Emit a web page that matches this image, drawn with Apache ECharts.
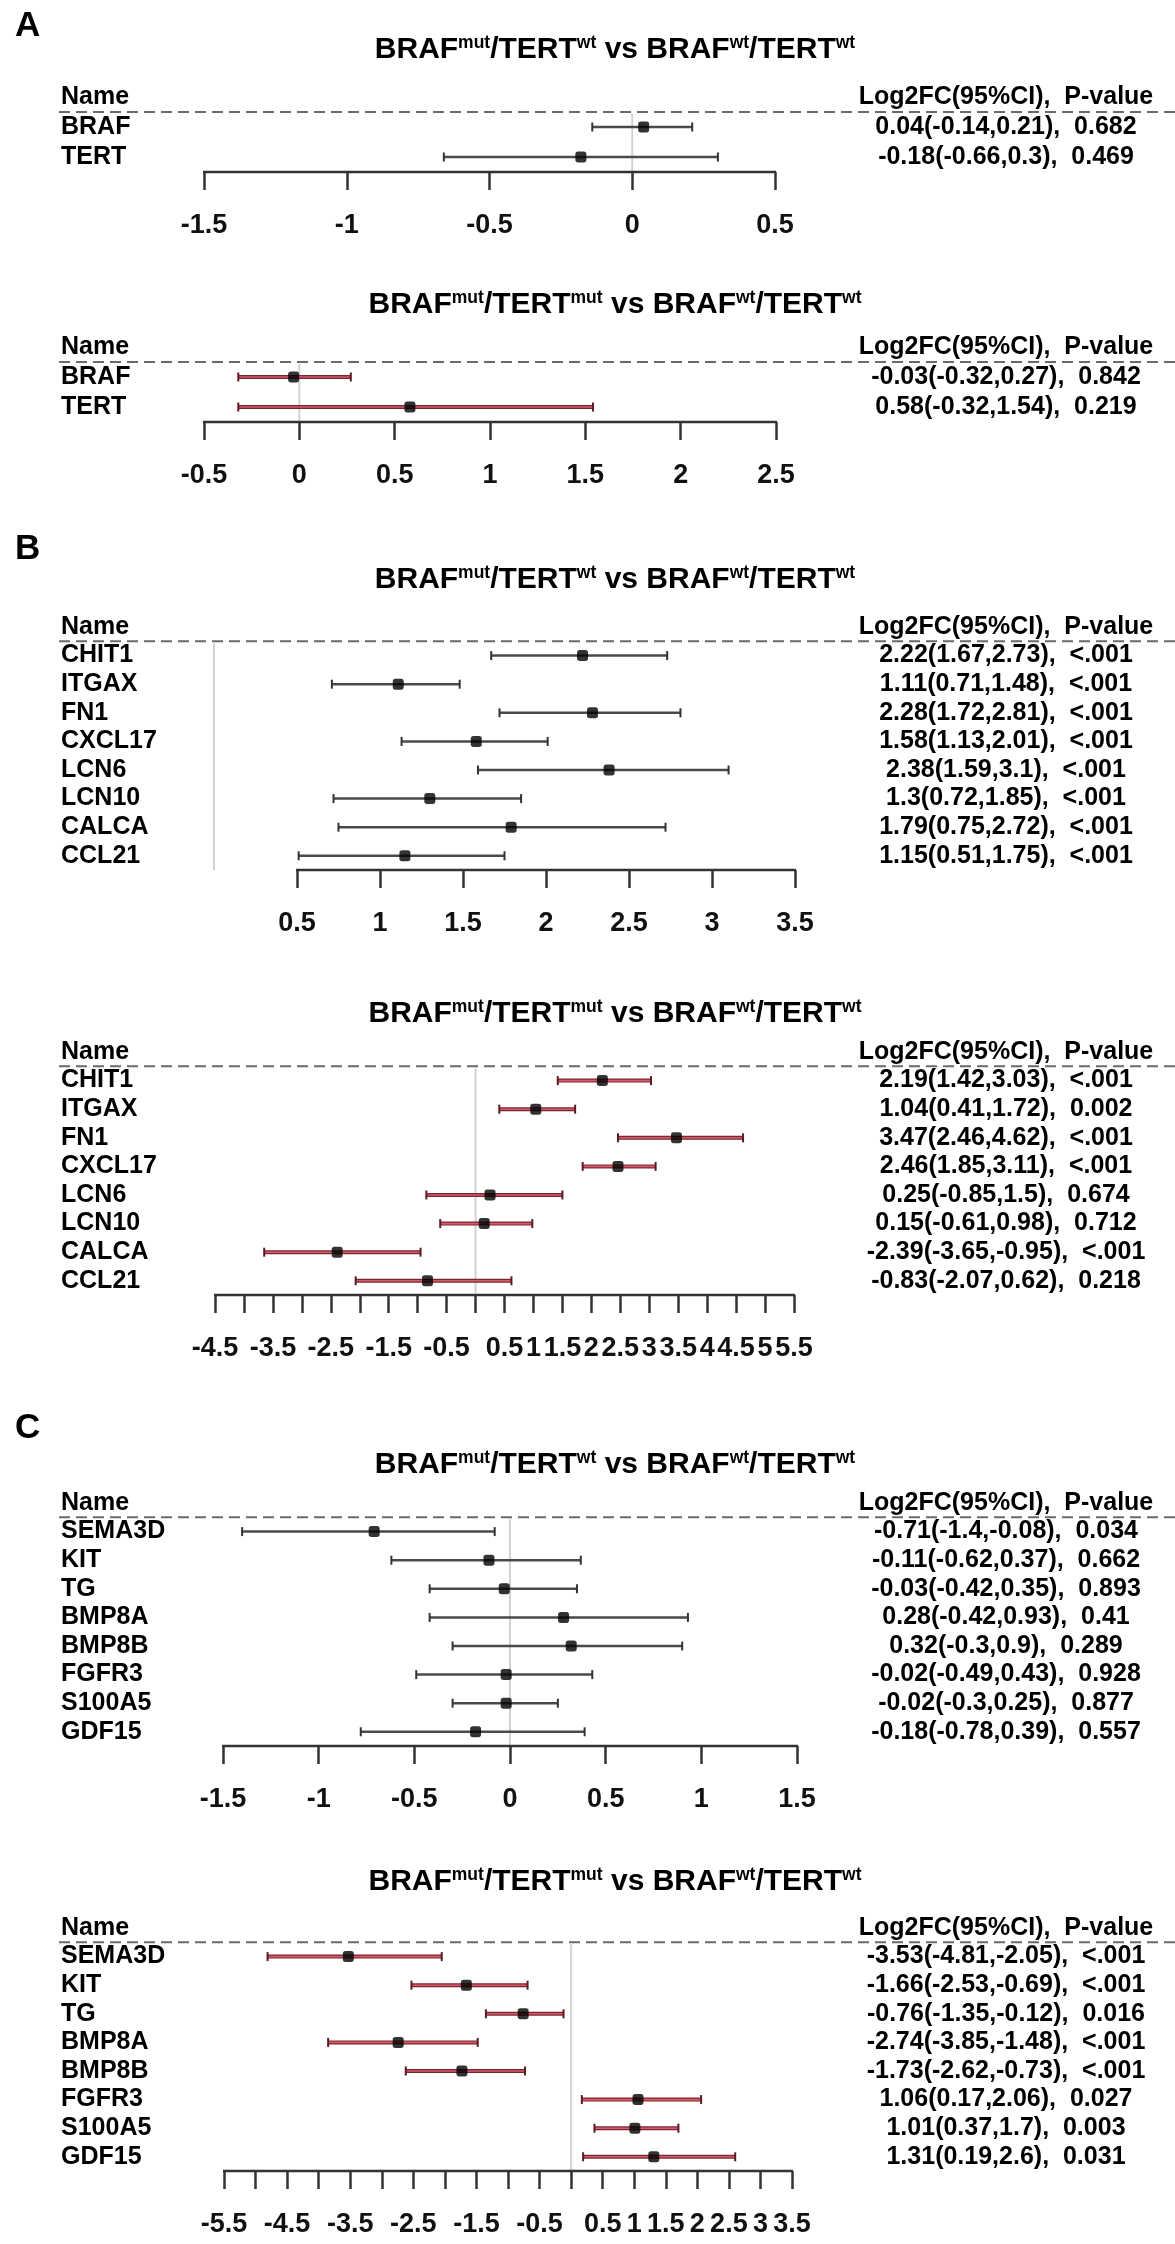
<!DOCTYPE html>
<html>
<head>
<meta charset="utf-8">
<title>Forest plots A-C</title>
<script src="https://cdn.jsdelivr.net/npm/echarts@6.0.0/dist/echarts.min.js"></script>
<style>
    html, body { margin: 0; padding: 0; background: #fff; }
    #main { width: 1175px; height: 2244px; }
</style>
</head>
<body>
<div id="main"></div>
<script>
(function() {
    // gene names
    var genesA = ['BRAF', 'TERT'];
    var genesB = ['CHIT1', 'ITGAX', 'FN1', 'CXCL17', 'LCN6', 'LCN10', 'CALCA', 'CCL21'];
    var genesC = ['SEMA3D', 'KIT', 'TG', 'BMP8A', 'BMP8B', 'FGFR3', 'S100A5', 'GDF15'];

    // A, mut/wt vs wt/wt
    var estA1 = [0.04, -0.18];
    var lowA1 = [-0.14, -0.66];
    var highA1 = [0.21, 0.3];
    var pA1 = ['0.682', '0.469'];
    // A, mut/mut vs wt/wt
    var estA2 = [-0.03, 0.58];
    var lowA2 = [-0.32, -0.32];
    var highA2 = [0.27, 1.54];
    var pA2 = ['0.842', '0.219'];

    // B, mut/wt vs wt/wt
    var estB1 = [2.22, 1.11, 2.28, 1.58, 2.38, 1.3, 1.79, 1.15];
    var lowB1 = [1.67, 0.71, 1.72, 1.13, 1.59, 0.72, 0.75, 0.51];
    var highB1 = [2.73, 1.48, 2.81, 2.01, 3.1, 1.85, 2.72, 1.75];
    var pB1 = ['<.001', '<.001', '<.001', '<.001', '<.001', '<.001', '<.001', '<.001'];
    // B, mut/mut vs wt/wt
    var estB2 = [2.19, 1.04, 3.47, 2.46, 0.25, 0.15, -2.39, -0.83];
    var lowB2 = [1.42, 0.41, 2.46, 1.85, -0.85, -0.61, -3.65, -2.07];
    var highB2 = [3.03, 1.72, 4.62, 3.11, 1.5, 0.98, -0.95, 0.62];
    var pB2 = ['<.001', '0.002', '<.001', '<.001', '0.674', '0.712', '<.001', '0.218'];

    // C, mut/wt vs wt/wt
    var estC1 = [-0.71, -0.11, -0.03, 0.28, 0.32, -0.02, -0.02, -0.18];
    var lowC1 = [-1.4, -0.62, -0.42, -0.42, -0.3, -0.49, -0.3, -0.78];
    var highC1 = [-0.08, 0.37, 0.35, 0.93, 0.9, 0.43, 0.25, 0.39];
    var pC1 = ['0.034', '0.662', '0.893', '0.41', '0.289', '0.928', '0.877', '0.557'];
    // C, mut/mut vs wt/wt
    var estC2 = [-3.53, -1.66, -0.76, -2.74, -1.73, 1.06, 1.01, 1.31];
    var lowC2 = [-4.81, -2.53, -1.35, -3.85, -2.62, 0.17, 0.37, 0.19];
    var highC2 = [-2.05, -0.69, -0.12, -1.48, -0.73, 2.06, 1.7, 2.6];
    var pC2 = ['<.001', '<.001', '0.016', '<.001', '<.001', '0.027', '0.003', '0.031'];

    // axis ticks and the labels that are printed
    var ticksA1 = [-1.5, -1, -0.5, 0, 0.5];
    var labelsA1 = [-1.5, -1, -0.5, 0, 0.5];
    var ticksA2 = [-0.5, 0, 0.5, 1, 1.5, 2, 2.5];
    var labelsA2 = [-0.5, 0, 0.5, 1, 1.5, 2, 2.5];
    var ticksB1 = [0.5, 1, 1.5, 2, 2.5, 3, 3.5];
    var labelsB1 = [0.5, 1, 1.5, 2, 2.5, 3, 3.5];
    var ticksB2 = [-4.5, -4, -3.5, -3, -2.5, -2, -1.5, -1, -0.5, 0, 0.5, 1, 1.5, 2, 2.5, 3, 3.5, 4, 4.5, 5, 5.5];
    var labelsB2 = [-4.5, -3.5, -2.5, -1.5, -0.5, 0.5, 1, 1.5, 2, 2.5, 3, 3.5, 4, 4.5, 5, 5.5];
    var ticksC1 = [-1.5, -1, -0.5, 0, 0.5, 1, 1.5];
    var labelsC1 = [-1.5, -1, -0.5, 0, 0.5, 1, 1.5];
    var ticksC2 = [-5.5, -5, -4.5, -4, -3.5, -3, -2.5, -2, -1.5, -1, -0.5, 0, 0.5, 1, 1.5, 2, 2.5, 3, 3.5];
    var labelsC2 = [-5.5, -4.5, -3.5, -2.5, -1.5, -0.5, 0.5, 1, 1.5, 2, 2.5, 3, 3.5];

    var FONT = '"Liberation Sans", Arial, Helvetica, sans-serif';
    var W = 1175;
    var TEXT_X = 1006;   // centre of the right text column
    var NAME_X = 61;     // left edge of the name column

    // layout of the six plots (pixels)
    var panels = [
        { genes: genesA, est: estA1, low: lowA1, high: highA1, p: pA1, ticks: ticksA1, labels: labelsA1,
          min: -1.5, max: 0.5, second: 'wt', red: false, titleY: 50, nameY: 97, rowH: 30, left: 204, right: 775 },
        { genes: genesA, est: estA2, low: lowA2, high: highA2, p: pA2, ticks: ticksA2, labels: labelsA2,
          min: -0.5, max: 2.5, second: 'mut', red: true, titleY: 305, nameY: 347, rowH: 30, left: 204, right: 776 },
        { genes: genesB, est: estB1, low: lowB1, high: highB1, p: pB1, ticks: ticksB1, labels: labelsB1,
          min: 0, max: 3.5, second: 'wt', red: false, titleY: 580, nameY: 627, rowH: 28.6, left: 214, right: 795 },
        { genes: genesB, est: estB2, low: lowB2, high: highB2, p: pB2, ticks: ticksB2, labels: labelsB2,
          min: -4.5, max: 5.5, second: 'mut', red: true, titleY: 1014, nameY: 1052, rowH: 28.6, left: 215, right: 794 },
        { genes: genesC, est: estC1, low: lowC1, high: highC1, p: pC1, ticks: ticksC1, labels: labelsC1,
          min: -1.5, max: 1.5, second: 'wt', red: false, titleY: 1465, nameY: 1503, rowH: 28.6, left: 223, right: 797 },
        { genes: genesC, est: estC2, low: lowC2, high: highC2, p: pC2, ticks: ticksC2, labels: labelsC2,
          min: -5.5, max: 3.5, second: 'mut', red: true, titleY: 1882, nameY: 1928, rowH: 28.6, left: 224, right: 792 }
    ];
    var letters = [{ text: 'A', y: 26 }, { text: 'B', y: 549 }, { text: 'C', y: 1428 }];

    var option = {
        animation: false,
        backgroundColor: '#fff',
        grid: [],
        xAxis: [],
        yAxis: [],
        series: [],
        graphic: []
    };

    letters.forEach(function(l) {
        option.graphic.push({
            type: 'text', x: 15, y: l.y,
            style: { text: l.text, fontSize: 35, fontWeight: 'bold', fontFamily: FONT, fill: '#000', verticalAlign: 'middle' }
        });
    });

    panels.forEach(function(p, i) {
        var n = p.genes.length;
        var top = p.nameY - p.rowH / 2;

        // title with superscripts
        option.graphic.push({
            type: 'text', x: 615, y: p.titleY,
            style: {
                text: '{b|BRAF}{s|mut}{b|/TERT}{s|' + p.second + '}{b| vs BRAF}{s|wt}{b|/TERT}{s|wt}',
                align: 'center', verticalAlign: 'middle',
                rich: {
                    b: { fontSize: 30, fontWeight: 'bold', fontFamily: FONT, fill: '#000', lineHeight: 31 },
                    s: { fontSize: 17.5, fontWeight: 'bold', fontFamily: FONT, fill: '#000', lineHeight: 17, verticalAlign: 'top' }
                }
            }
        });

        var texts = p.genes.map(function(g, k) {
            return p.est[k] + '(' + p.low[k] + ',' + p.high[k] + '),  ' + p.p[k];
        });

        option.grid.push({ left: p.left, width: p.right - p.left, top: top, height: (n + 1) * p.rowH });

        option.xAxis.push({
            type: 'value', gridIndex: i, min: p.min, max: p.max,
            splitLine: { show: false },
            axisLine: { show: false },
            axisTick: { show: true, customValues: p.ticks, length: 18, lineStyle: { color: '#333', width: 2.5 } },
            axisLabel: {
                customValues: p.labels, margin: 40, hideOverlap: false,
                fontSize: 27, fontWeight: 'bold', fontFamily: FONT, color: '#111',
                formatter: function(v) { return String(v); }
            }
        });

        // names on the left
        option.yAxis.push({
            type: 'category', gridIndex: i, inverse: true,
            data: ['Name'].concat(p.genes),
            axisLine: { show: false }, axisTick: { show: false }, splitLine: { show: false },
            axisLabel: { interval: 0, align: 'left', margin: p.left - NAME_X, fontSize: 25, fontWeight: 'bold', fontFamily: FONT, color: '#000' }
        });
        // estimate text on the right
        option.yAxis.push({
            type: 'category', gridIndex: i, inverse: true, position: 'right',
            data: ['Log2FC(95%CI),  P-value'].concat(texts),
            axisLine: { show: false }, axisTick: { show: false }, splitLine: { show: false },
            axisLabel: { interval: 0, align: 'center', margin: TEXT_X - p.right, fontSize: 25, fontWeight: 'bold', fontFamily: FONT, color: '#000' }
        });

        // dashed header line, zero line and axis base line
        option.series.push({
            type: 'custom', xAxisIndex: i, yAxisIndex: 2 * i, clip: false, silent: true, z: 1,
            data: [[0, 0]],
            renderItem: function(params, api) {
                var h = api.size([0, 1])[1];
                var yDash = api.coord([0, 0])[1] + h / 2;
                var yBase = api.coord([0, n])[1] + h / 2;
                var x0 = api.coord([0, 0])[0];
                var xa = api.coord([p.ticks[0], 0])[0];
                var xb = api.coord([p.ticks[p.ticks.length - 1], 0])[0];
                return {
                    type: 'group',
                    children: [
                        { type: 'line', shape: { x1: 59, y1: yDash, x2: W, y2: yDash }, style: { stroke: '#6a6a6a', lineWidth: 2, lineDash: [11, 6] } },
                        { type: 'line', shape: { x1: x0, y1: yDash + 2, x2: x0, y2: yBase }, style: { stroke: '#d2d2d2', lineWidth: 2 } },
                        { type: 'line', shape: { x1: xa - 1, y1: yBase, x2: xb + 1, y2: yBase }, style: { stroke: '#333', lineWidth: 2.5 } }
                    ]
                };
            }
        });

        // confidence intervals
        option.series.push({
            type: 'custom', xAxisIndex: i, yAxisIndex: 2 * i, clip: false, silent: true, z: 2,
            encode: { x: [0, 1], y: 2 },
            data: p.genes.map(function(g, k) { return [p.low[k], p.high[k], g]; }),
            renderItem: function(params, api) {
                var a = api.coord([api.value(0), api.value(2)]);
                var b = api.coord([api.value(1), api.value(2)]);
                var cap = 4.5;
                var capColor = p.red ? '#5c1a22' : '#333';
                var kids = [];
                if (p.red) {
                    kids.push({ type: 'line', shape: { x1: a[0], y1: a[1], x2: b[0], y2: b[1] }, style: { stroke: '#7a2631', lineWidth: 4 } });
                    kids.push({ type: 'line', shape: { x1: a[0], y1: a[1], x2: b[0], y2: b[1] }, style: { stroke: '#d65a6a', lineWidth: 1.6 } });
                } else {
                    kids.push({ type: 'line', shape: { x1: a[0], y1: a[1], x2: b[0], y2: b[1] }, style: { stroke: '#4a4a4a', lineWidth: 2.5 } });
                }
                kids.push({ type: 'line', shape: { x1: a[0], y1: a[1] - cap, x2: a[0], y2: a[1] + cap }, style: { stroke: capColor, lineWidth: 2 } });
                kids.push({ type: 'line', shape: { x1: b[0], y1: b[1] - cap, x2: b[0], y2: b[1] + cap }, style: { stroke: capColor, lineWidth: 2 } });
                return { type: 'group', children: kids };
            }
        });

        // point estimates
        option.series.push({
            type: 'scatter', xAxisIndex: i, yAxisIndex: 2 * i, z: 3, silent: true,
            symbol: 'roundRect', symbolSize: 11,
            itemStyle: { color: '#000' },
            data: p.genes.map(function(g, k) { return [p.est[k], g]; })
        });
    });

    var chart = echarts.init(document.getElementById('main'), null, { renderer: 'canvas' });
    chart.setOption(option);
})();
</script>
</body>
</html>
